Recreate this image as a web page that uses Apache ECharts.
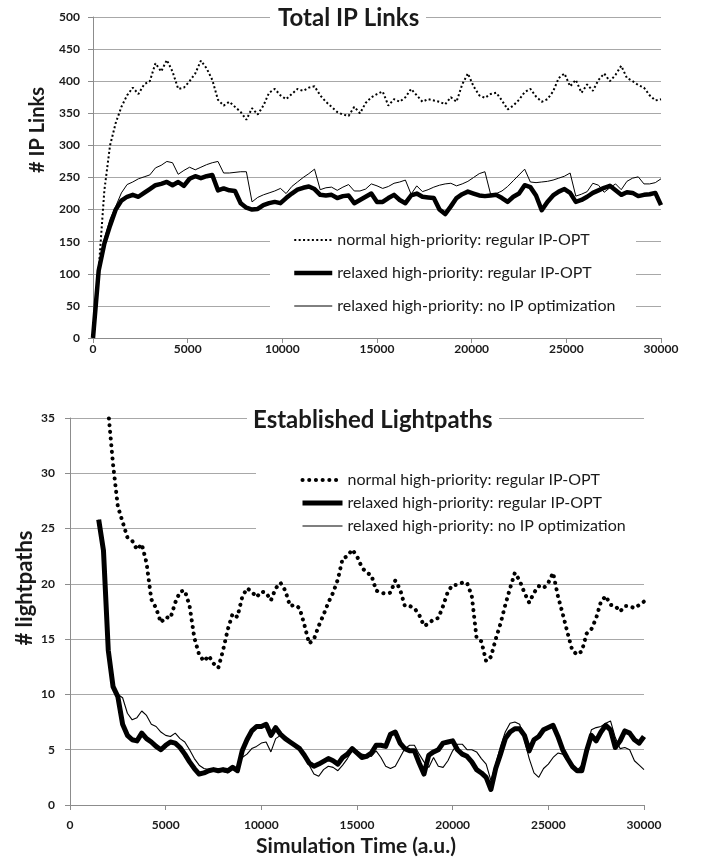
<!DOCTYPE html>
<html><head><meta charset="utf-8">
<script src="https://cdn.jsdelivr.net/npm/echarts@6/dist/echarts.min.js"></script>
<style>html,body{margin:0;padding:0;background:#fff}#c{width:704px;height:859px}</style>
</head><body><div id="c"></div>
<script>
// ---- data ----
const seriesNames = [
  'normal high-priority: regular IP-OPT',
  'relaxed high-priority: regular IP-OPT',
  'relaxed high-priority: no IP optimization'
];
const topTitle = 'Total IP Links';
const bottomTitle = 'Established Lightpaths';
const topYName = '# IP Links';
const bottomYName = '# lightpaths';
const xName = 'Simulation Time (a.u.)';

// Top chart: samples every 300 time units from 0 to 30000
const topStart = 0, topStep = 300;
const topNormal = [
  0,106,230,300,335,360,378,390,380,395,
  400,428,415,433,415,388,390,400,412,432,
  420,402,371,362,368,360,352,340,358,348,
  362,382,388,378,372,380,388,385,390,392,
  378,368,360,352,348,346,360,350,366,375,
  380,384,362,372,368,375,388,378,368,372,
  370,368,364,375,368,395,412,392,378,374,
  380,382,370,356,362,371,383,388,376,368,
  372,384,405,412,392,402,382,395,385,402,
  412,400,410,424,405,400,394,390,378,370,
  372
];
const topRelaxedOpt = [
  0,105,147,175,200,214,220,223,220,226,
  232,238,240,243,238,243,237,248,252,249,
  252,254,230,233,230,229,210,203,200,201,
  207,210,212,210,218,225,231,234,236,232,
  223,222,223,218,221,222,210,215,220,225,
  212,212,218,223,215,210,222,225,220,219,
  218,200,193,205,218,224,228,225,222,221,
  222,223,218,212,220,225,238,235,222,199,
  212,222,228,232,226,212,215,220,226,230,
  234,237,230,223,227,226,221,223,224,226,
  207
];
const topRelaxedNoOpt = [
  0,108,155,185,205,226,239,243,248,251,
  254,265,269,275,273,255,261,266,262,266,
  270,273,275,257,257,258,259,259,212,219,
  223,226,229,233,225,236,243,250,256,263,
  231,234,235,230,235,239,229,229,232,240,
  237,233,236,241,243,246,224,237,228,231,
  235,238,240,241,237,240,244,250,256,259,
  224,225,229,236,245,254,263,243,242,243,
  244,246,249,252,257,221,224,228,241,238,
  227,234,240,231,244,249,251,240,240,242,
  248
];

// Bottom chart: samples every 250 time units from 1500 to 30000
const botStart = 1500, botStep = 250;
const botNormal = [
  44,39.5,35.6,30.8,27.0,25.6,24.2,23.9,23.1,23.6,
  21.9,18.6,17.8,16.5,17.0,16.9,18.3,19.3,19.4,18.0,
  15.1,13.6,13.0,13.5,12.8,12.4,14.0,15.9,17.3,17.0,
  18.8,19.6,19.3,18.8,19.3,19.2,18.5,19.6,20.1,19.4,
  18.0,18.1,17.8,16.3,14.6,15.0,16.2,17.2,18.3,19.2,
  20.4,22.3,22.5,23.1,22.5,21.5,21.0,20.8,19.4,19.2,
  19.1,19.2,20.3,19.5,18.0,18.0,17.8,17.2,16.2,16.4,
  16.8,16.9,18.0,19.3,19.9,19.9,20.1,20.1,18.9,15.1,
  14.8,13.0,13.4,15.0,16.4,18.1,19.6,21.0,20.3,19.2,
  18.3,19.2,19.8,19.6,20.1,21.0,18.9,17.3,15.6,14.0,
  13.6,13.9,15.5,15.9,16.9,18.4,18.9,18.1,18.0,17.5,
  18.0,18.0,17.8,18.1,18.4
];
const botRelaxedOpt = [
  25.8,23.0,14.0,10.7,9.8,7.3,6.3,5.9,5.8,6.5,
  6.0,5.7,5.3,5.0,5.4,5.7,5.6,5.2,4.6,3.9,
  3.3,2.8,2.9,3.1,3.2,3.1,3.2,3.1,3.4,3.1,
  4.9,5.9,6.7,7.1,7.1,7.3,6.3,7.0,6.4,6.0,
  5.7,5.4,5.1,4.5,3.8,3.5,3.7,3.95,4.2,4.0,
  3.7,4.3,4.6,5.1,4.7,4.3,4.4,4.7,5.4,5.4,
  5.3,6.4,6.6,5.6,5.1,4.9,4.9,3.8,2.8,4.5,
  4.8,5.0,5.6,5.7,5.8,5.0,4.6,4.4,3.9,3.2,
  2.9,2.5,1.4,3.3,4.6,6.0,6.6,6.9,6.9,6.3,
  4.9,5.9,6.2,6.8,7.0,7.2,6.2,5.0,4.2,3.5,
  3.1,3.1,4.9,6.3,5.8,6.6,7.2,6.8,5.2,5.8,
  6.7,6.5,5.9,5.6,6.2
];
const botRelaxedNoOpt = [
  25.8,23.0,14.0,10.8,10.0,9.7,8.3,7.7,7.9,8.5,
  8.1,7.3,7.1,6.6,6.3,6.2,6.5,6.0,5.7,5.0,
  4.2,3.6,3.3,3.2,3.2,3.2,3.0,2.9,3.2,3.5,
  4.3,4.6,5.1,5.3,5.6,5.7,4.8,6.0,6.3,6.0,
  5.7,5.4,5.1,4.5,3.6,2.8,2.6,3.2,3.5,3.4,
  3.1,3.6,4.2,4.9,4.9,4.6,4.5,4.4,4.9,4.3,
  3.5,3.3,3.5,4.3,5.1,5.4,5.4,4.6,3.9,3.4,
  4.3,3.5,3.4,4.0,4.9,5.5,5.5,5.0,5.0,4.8,
  4.2,3.7,2.2,3.7,5.3,6.6,7.4,7.5,7.3,5.9,
  4.2,2.9,2.5,3.3,3.7,4.3,4.7,4.6,4.0,3.4,
  3.1,3.6,5.2,6.8,7.0,7.1,7.4,7.6,6.1,5.1,
  5.2,5.0,4.0,3.6,3.2
];

// ---- chart ----
const F = 'Lato';
const AX = '#8c8c8c', GRID = '#a8a8a8', TXT = '#1a1a1a';
function pairs(start, step, vals) { return vals.map((v, i) => [start + i * step, v]); }
const plain = v => String(v);

function xAx(gi, margin) {
  return { type: 'value', gridIndex: gi, min: 0, max: 30000, interval: 5000,
    axisLine: { show: true, onZero: false, lineStyle: { color: AX, width: 1 } },
    axisTick: { show: true, length: 5, lineStyle: { color: AX } },
    axisLabel: { margin: margin, formatter: plain, fontFamily: F, fontWeight: 'bold', fontSize: 12, color: TXT },
    splitLine: { show: false } };
}
function yAx(gi, max, interval, margin) {
  return { type: 'value', gridIndex: gi, min: 0, max: max, interval: interval,
    axisLine: { show: true, lineStyle: { color: AX, width: 1 } },
    axisTick: { show: true, length: 5, lineStyle: { color: AX } },
    axisLabel: { margin: margin, formatter: plain, fontFamily: F, fontWeight: 'bold', fontSize: 12, color: TXT },
    splitLine: { show: true, lineStyle: { color: GRID, width: 1 } } };
}
const P2 = 'L2|';
function legendName(n) { return n.indexOf(P2) === 0 ? n.slice(P2.length) : n; }

const topStyles = [
  { width: 2, type: [2, 2.4] },
  { width: 4.5, join: 'round' },
  { width: 1 }
];
const botStyles = [
  { width: 4, type: [0.1, 6.6], cap: 'round' },
  { width: 5, join: 'round' },
  { width: 1.1 }
];
function line(name, xi, data, ls) {
  return { type: 'line', name: name, xAxisIndex: xi, yAxisIndex: xi, data: data,
    symbol: 'none', showSymbol: false, clip: true, animation: false, z: 3,
    lineStyle: Object.assign({ color: '#000' }, ls), itemStyle: { color: '#000' } };
}
function legendItems(prefix, styles) {
  return seriesNames.map((n, i) => ({ name: prefix + n,
    lineStyle: Object.assign({ color: '#000' }, styles[i]),
    itemStyle: { opacity: 0 } }));
}

const chart = echarts.init(document.getElementById('c'), null, { renderer: 'canvas' });
chart.setOption({
  backgroundColor: '#fff',
  animation: false,
  grid: [
    { left: 93, right: 43, top: 17, bottom: 521, containLabel: false },
    { left: 70, right: 60, top: 418, bottom: 54, containLabel: false }
  ],
  xAxis: [xAx(0, 5), xAx(1, 14)],
  yAxis: [yAx(0, 500, 50, 13), yAx(1, 35, 5, 15)],
  title: [
    { text: topTitle, left: 278, top: 6, padding: 0,
      textStyle: { fontFamily: F, fontWeight: 'bold', fontSize: 24, color: TXT } },
    { text: bottomTitle, left: 253, top: 408, padding: 0,
      textStyle: { fontFamily: F, fontWeight: 'bold', fontSize: 24, color: TXT } }
  ],
  legend: [
    { orient: 'vertical', left: 292, top: 231, itemWidth: 38, itemHeight: 14, itemGap: 15,
      selectedMode: false, padding: 0, z: 10, itemStyle: { opacity: 0 },
      textStyle: { fontFamily: F, fontSize: 16, color: TXT, lineHeight: 18 },
      data: legendItems('', topStyles) },
    { orient: 'vertical', left: 300, top: 471, itemWidth: 40, itemHeight: 14, itemGap: 5,
      selectedMode: false, padding: 0, z: 10, formatter: legendName, itemStyle: { opacity: 0 },
      textStyle: { fontFamily: F, fontSize: 16, color: TXT, lineHeight: 18 },
      data: legendItems(P2, botStyles) }
  ],
  graphic: [
    { type: 'rect', z: 1, shape: { x: 270, y: 6, width: 156, height: 24 }, style: { fill: '#fff' } },
    { type: 'rect', z: 1, shape: { x: 270, y: 222, width: 366, height: 103 }, style: { fill: '#fff' } },
    { type: 'rect', z: 1, shape: { x: 247, y: 406, width: 252, height: 26 }, style: { fill: '#fff' } },
    { type: 'rect', z: 1, shape: { x: 256, y: 456, width: 392, height: 88 }, style: { fill: '#fff' } },
    { type: 'text', z: 10, x: 38, y: 130, rotation: Math.PI / 2,
      style: { text: topYName, font: 'bold 20px Lato', fill: TXT, align: 'center', verticalAlign: 'middle', textAlign: 'center', textVerticalAlign: 'middle' } },
    { type: 'text', z: 10, x: 25, y: 588, rotation: Math.PI / 2,
      style: { text: bottomYName, font: 'bold 22px Lato', fill: TXT, align: 'center', verticalAlign: 'middle', textAlign: 'center', textVerticalAlign: 'middle' } },
    { type: 'text', z: 10, x: 356, y: 846,
      style: { text: xName, font: 'bold 21px Lato', fill: TXT, align: 'center', verticalAlign: 'middle', textAlign: 'center', textVerticalAlign: 'middle' } }
  ],
  series: [
    line(seriesNames[0], 0, pairs(topStart, topStep, topNormal), topStyles[0]),
    line(seriesNames[1], 0, pairs(topStart, topStep, topRelaxedOpt), topStyles[1]),
    line(seriesNames[2], 0, pairs(topStart, topStep, topRelaxedNoOpt), topStyles[2]),
    line(P2 + seriesNames[0], 1, pairs(botStart, botStep, botNormal), botStyles[0]),
    line(P2 + seriesNames[1], 1, pairs(botStart, botStep, botRelaxedOpt), botStyles[1]),
    line(P2 + seriesNames[2], 1, pairs(botStart, botStep, botRelaxedNoOpt), botStyles[2])
  ]
});
</script>
</body></html>
